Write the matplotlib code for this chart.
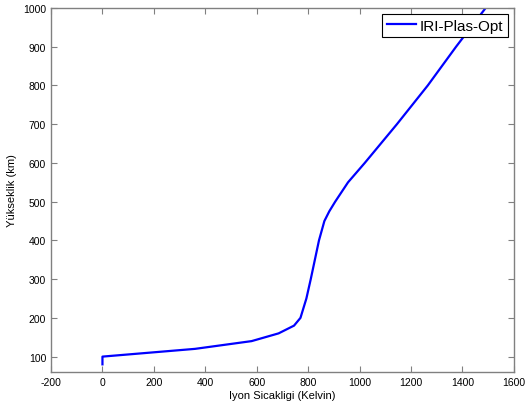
import matplotlib
matplotlib.use("Agg")
import matplotlib.pyplot as plt

plt.rcParams['font.family'] = ['Liberation Sans', 'DejaVu Sans']
plt.rcParams['axes.unicode_minus'] = False

# ion temperature (K) vs altitude (km)
altitude = [80, 100, 120, 140, 160, 180, 200, 250, 300, 350, 400, 450,
            475, 500, 550, 600, 700, 800, 900, 1000]
temperature = [0, 0, 360, 580, 685, 745, 770, 793, 810, 826, 842, 863,
               882, 905, 955, 1020, 1145, 1265, 1375, 1490]

fig = plt.figure(figsize=(5.26, 4.10), dpi=100)
ax = fig.add_axes([0.097, 0.090, 0.880, 0.888])

ax.plot(temperature, altitude, color='#0000ff', lw=1.6, label='IRI-Plas-Opt')

ax.set_xlim(-200, 1600)
ax.set_ylim(60, 1000)
ax.set_xticks(range(-200, 1601, 200))
ax.set_yticks(range(100, 1001, 100))

for s in ax.spines.values():
    s.set_color('#808080')
    s.set_linewidth(1)
ax.tick_params(direction='in', top=True, right=True, length=4,
               color='#808080', labelsize=7.5, labelcolor='black')

ax.set_xlabel('Iyon Sicakligi (Kelvin)', fontsize=8, labelpad=2)
ax.set_ylabel('Yükseklik (km)', fontsize=8, labelpad=4)

leg = ax.legend(loc='upper right', fontsize=11, fancybox=False,
                framealpha=1, borderaxespad=0.4, borderpad=0.3,
                handlelength=1.9, handletextpad=0.25)
leg.get_frame().set_edgecolor('black')
leg.get_frame().set_linewidth(0.8)

fig.savefig('out.png', dpi=100)
